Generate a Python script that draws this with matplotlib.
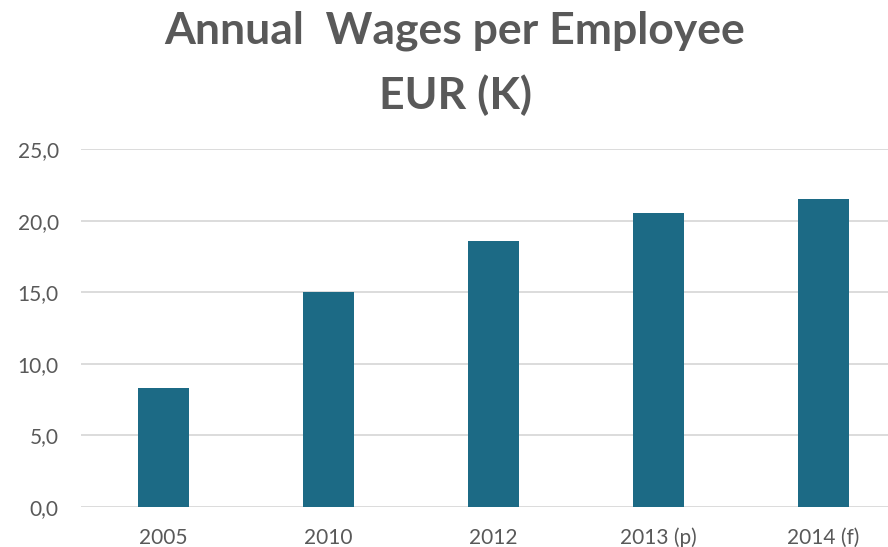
import matplotlib.pyplot as plt
from matplotlib.ticker import FuncFormatter

categorias = ['2005', '2010', '2012', '2013 (p)', '2014 (f)']
salarios = [8.3, 15.0, 18.6, 20.5, 21.5]
ticks_y = [0, 5, 10, 15, 20, 25]

cor_barra = '#1c6a85'
cor_texto = '#595959'


def grafico_barras(cats, vals):
    fig = plt.figure(figsize=(8.88, 5.47), dpi=100, facecolor='white')
    ax = fig.add_axes([81 / 888, 1 - 507 / 547, 825 / 888, 358 / 547])
    ax.bar(range(len(cats)), vals, width=0.315, color=cor_barra, zorder=3)
    ax.set_xlim(-0.5, len(cats) - 0.5)
    ax.set_ylim(0, 25)
    ax.set_yticks(ticks_y)
    ax.yaxis.set_major_formatter(FuncFormatter(lambda v, p: f'{v:.1f}'.replace('.', ',')))
    ax.set_xticks(range(len(cats)))
    ax.set_xticklabels(cats)
    ax.grid(axis='y', color='#d9d9d9', linewidth=1.3, zorder=0)
    for s in ['top', 'right', 'left', 'bottom']:
        ax.spines[s].set_visible(False)
    ax.tick_params(axis='both', length=0, labelsize=15, labelcolor=cor_texto)
    ax.tick_params(axis='y', pad=16)
    ax.tick_params(axis='x', pad=15)
    for lbl in ax.get_xticklabels() + ax.get_yticklabels():
        lbl.set_fontfamily('Lato')
    # titulo em duas linhas
    fig.text(455 / 888, 1 - 31 / 547, 'Annual  Wages per Employee', ha='center', va='center',
             fontsize=32, fontweight='bold', color=cor_texto, family='Lato')
    fig.text(455 / 888, 1 - 95 / 547, 'EUR (K)', ha='center', va='center',
             fontsize=32, fontweight='bold', color=cor_texto, family='Lato')
    fig.savefig('out.png', dpi=100)


grafico_barras(categorias, salarios)
